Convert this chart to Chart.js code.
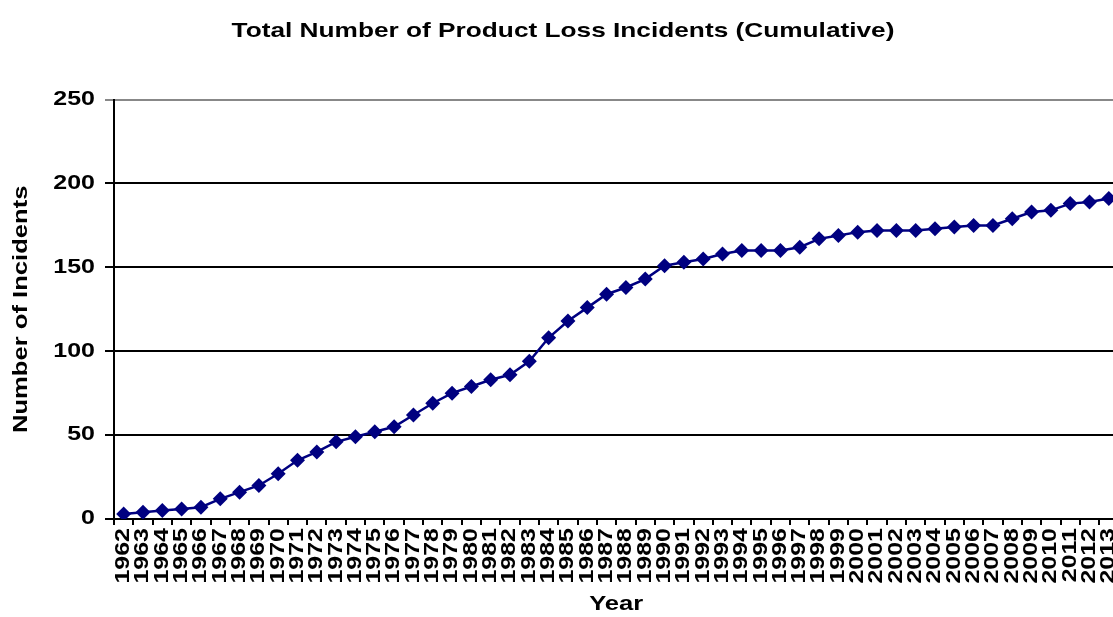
<!DOCTYPE html>
<html lang="en">
<head>
  <meta charset="UTF-8"/>
  <title>Product Loss Incidents</title>
  <script src="https://cdn.jsdelivr.net/npm/chart.js"></script>
  <style>
    html, body {
      margin: 0;
      padding: 0;
      background: #fff;
      overflow: hidden;
    }
    #chart {
      display: block;
    }
  </style>
</head>
<body>
  <canvas id="chart" width="1126" height="617"></canvas>

  <script>
    const years = [
      "1962","1963","1964","1965","1966","1967","1968","1969","1970","1971",
      "1972","1973","1974","1975","1976","1977","1978","1979","1980","1981",
      "1982","1983","1984","1985","1986","1987","1988","1989","1990","1991",
      "1992","1993","1994","1995","1996","1997","1998","1999","2000","2001",
      "2002","2003","2004","2005","2006","2007","2008","2009","2010","2011",
      "2012","2013"
    ];
    // cumulative count per year
    const incidents = [
      3, 4, 5, 6, 7, 12, 16, 20, 27, 35,
      40, 46, 49, 52, 55, 62, 69, 75, 79, 83,
      86, 94, 108, 118, 126, 134, 138, 143, 151, 153,
      155, 158, 160, 160, 160, 162, 167, 169, 171, 172,
      172, 172, 173, 174, 175, 175, 179, 183, 184, 188,
      189, 191
    ];
    const yTicks = [0, 50, 100, 150, 200, 250];

    const FONT = "'Liberation Sans', Arial, sans-serif";
    const TEXT_STRETCH = 1.28; // wide lettering, stretched along the text direction

    const canvas = document.getElementById("chart");
    const ctx = canvas.getContext("2d");

    // widen every label: scale around the anchor point, keep measurements in sync
    const rawFill = ctx.fillText.bind(ctx);
    const rawMeasure = ctx.measureText.bind(ctx);
    ctx.fillText = function (text, x, y) {
      this.save();
      this.translate(x, y);
      this.scale(TEXT_STRETCH, 1);
      rawFill(text, 0, 0);
      this.restore();
    };
    ctx.measureText = function (text) {
      const m = rawMeasure(text);
      return {
        width: m.width * TEXT_STRETCH,
        actualBoundingBoxAscent: m.actualBoundingBoxAscent,
        actualBoundingBoxDescent: m.actualBoundingBoxDescent,
        actualBoundingBoxLeft: m.actualBoundingBoxLeft * TEXT_STRETCH,
        actualBoundingBoxRight: m.actualBoundingBoxRight * TEXT_STRETCH
      };
    };

    new Chart(ctx, {
      type: "line",
      data: {
        labels: years,
        datasets: [{
          label: "Incidents",
          data: incidents,
          borderColor: "#000080",
          backgroundColor: "#000080",
          borderWidth: 2.5,
          tension: 0,
          pointStyle: "rectRot",
          pointRadius: 7.5,
          pointBorderWidth: 0
        }]
      },
      options: {
        responsive: false,
        animation: false,
        layout: { padding: 0 },
        plugins: {
          legend: { display: false },
          tooltip: { enabled: false },
          title: {
            display: true,
            text: "Total Number of Product Loss Incidents (Cumulative)",
            color: "#000",
            font: { family: FONT, size: 20.5, weight: "bold" },
            padding: { top: 19, bottom: 56 }
          }
        },
        scales: {
          x: {
            offset: true,
            border: { display: false },
            grid: {
              offset: true,
              drawOnChartArea: false,
              color: "#000",
              lineWidth: 2,
              tickLength: 6
            },
            ticks: {
              autoSkip: false,
              minRotation: 90,
              maxRotation: 90,
              padding: 3,
              color: "#000",
              font: { family: FONT, size: 19.5, weight: "bold" }
            },
            title: {
              display: true,
              text: "Year",
              color: "#000",
              font: { family: FONT, size: 20, weight: "bold" },
              padding: { top: 0, bottom: 1 }
            },
            afterFit: s => {
              s.height = 98;
              s.paddingLeft = 0;
              s.paddingRight = 0;
            }
          },
          y: {
            min: 0,
            max: 250,
            afterBuildTicks: s => { s.ticks = yTicks.map(v => ({ value: v })); },
            border: { color: "#000", width: 2 },
            grid: {
              color: c => (c.tick && c.tick.value === 250 ? "#888" : "#000"),
              lineWidth: 2,
              tickLength: 9
            },
            ticks: {
              padding: 10,
              color: "#000",
              font: { family: FONT, size: 19.5, weight: "bold" }
            },
            title: {
              display: true,
              text: "Number of Incidents",
              color: "#000",
              font: { family: FONT, size: 20, weight: "bold" },
              padding: { top: 9, bottom: 0 }
            },
            afterFit: s => { s.width = 114; }
          }
        }
      }
    });
  </script>
</body>
</html>
